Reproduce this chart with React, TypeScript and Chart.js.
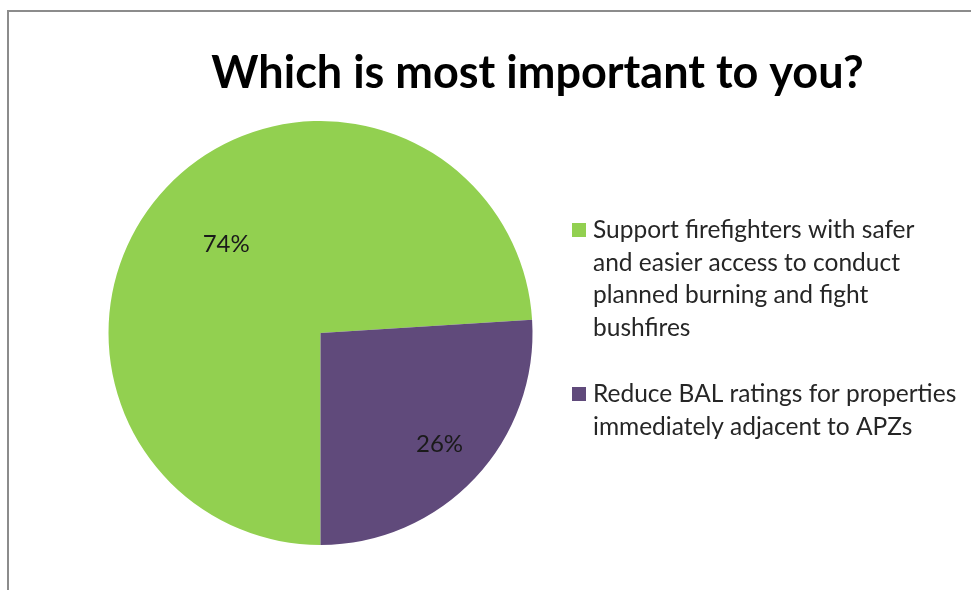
import React, { useEffect, useRef } from "react";
import { Chart, registerables } from "chart.js";

Chart.register(...registerables);

const title = "Which is most important to you?";
const categories = [
  ["Support firefighters with safer", "and easier access to conduct", "planned burning and fight", "bushfires"],
  ["Reduce BAL ratings for properties", "immediately adjacent to APZs"],
];
const values = [74, 26];
const colors = ["#92D050", "#604A7B"];
const labelRadius = [0.61, 0.77];

const overlay = {
  id: "overlay",
  afterDraw(chart: any) {
    const ctx = chart.ctx as CanvasRenderingContext2D;
    ctx.save();
    // frame
    ctx.strokeStyle = "#8c8c8c";
    ctx.lineWidth = 2;
    ctx.beginPath();
    ctx.moveTo(8, 590);
    ctx.lineTo(8, 11);
    ctx.lineTo(971, 11);
    ctx.stroke();

    // title
    ctx.fillStyle = "#000";
    ctx.font = "bold 45px Lato";
    ctx.textAlign = "center";
    ctx.textBaseline = "alphabetic";
    ctx.fillText(title, 537.5, 88);

    // data labels
    const meta = chart.getDatasetMeta(0);
    ctx.font = "24px Lato";
    ctx.fillStyle = "#1a1a1a";
    ctx.textBaseline = "middle";
    meta.data.forEach((arc: any, i: number) => {
      const p = arc.getProps(["x", "y", "startAngle", "endAngle", "outerRadius"], true);
      const mid = (p.startAngle + p.endAngle) / 2;
      const r = p.outerRadius * labelRadius[i];
      ctx.fillText(values[i] + "%", p.x + Math.cos(mid) * r, p.y + Math.sin(mid) * r);
    });

    // legend
    ctx.textAlign = "left";
    ctx.textBaseline = "alphabetic";
    ctx.font = "24.5px Lato";
    const starts = [238, 402];
    categories.forEach((lines, i) => {
      ctx.fillStyle = colors[i];
      ctx.fillRect(572, starts[i] - 15, 14, 14);
      ctx.fillStyle = "#262626";
      lines.forEach((ln, j) => ctx.fillText(ln, 593, starts[i] + j * 32.5));
    });
    ctx.restore();
  },
};

export default function App() {
  const ref = useRef<HTMLCanvasElement>(null);
  useEffect(() => {
    if (!ref.current) return;
    const chart = new Chart(ref.current, {
      type: "pie",
      data: {
        labels: categories.map((c) => c.join(" ")),
        datasets: [
          {
            data: values,
            backgroundColor: colors,
            borderWidth: 0,
            hoverOffset: 0,
          },
        ],
      },
      options: {
        animation: false,
        responsive: false,
        rotation: 180,
        layout: { padding: { left: 108.5, right: 438.5, top: 121, bottom: 45 } },
        plugins: {
          legend: { display: false },
          title: { display: false },
          tooltip: { enabled: false },
        },
      },
      plugins: [overlay],
    });
    return () => chart.destroy();
  }, []);
  return (
    <div style={{ position: "fixed", left: 0, top: 0, width: 971, height: 590, background: "#fff" }}>
      <canvas ref={ref} width={971} height={590} style={{ display: "block" }} />
    </div>
  );
}
